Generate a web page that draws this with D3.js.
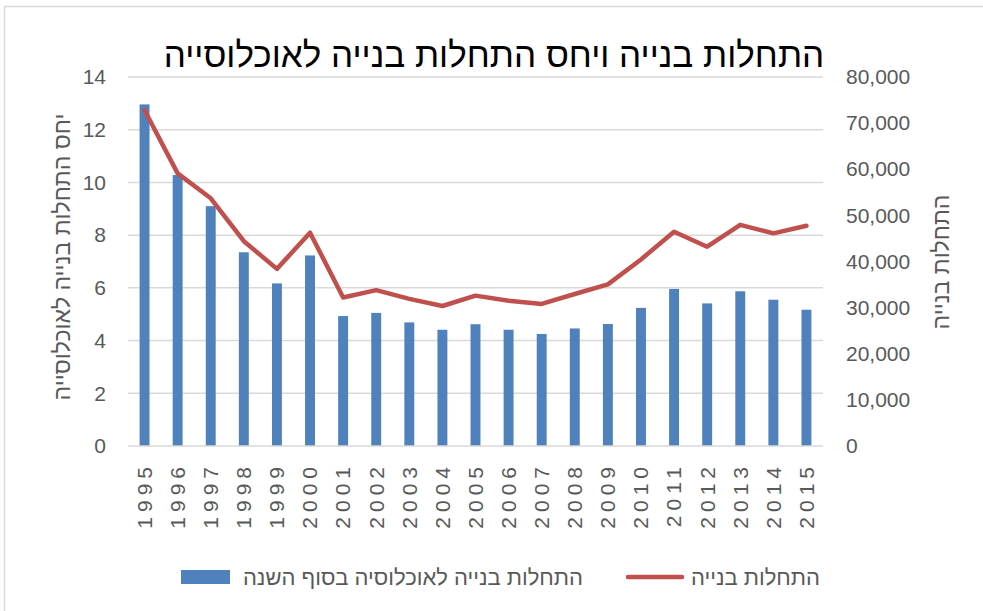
<!DOCTYPE html>
<html>
<head>
<meta charset="utf-8">
<script src="https://cdn.jsdelivr.net/npm/d3@7"></script>
<style>
  body { margin: 0; background: #fff; }
  svg { display: block; font-family: "Liberation Sans", Arial, sans-serif; }
</style>
</head>
<body>
<svg id="chart" width="983" height="611"></svg>
<script>
// data
const years = ["1995","1996","1997","1998","1999","2000","2001","2002","2003","2004","2005",
               "2006","2007","2008","2009","2010","2011","2012","2013","2014","2015"];
// starts per 1000 population (bars, left axis)
const ratioValues = [12.96, 10.28, 9.1, 7.35, 6.17, 7.23, 4.93, 5.05, 4.69, 4.41, 4.62,
                     4.41, 4.25, 4.46, 4.63, 5.24, 5.96, 5.41, 5.87, 5.55, 5.17];
// building starts (line, right axis)
const startsValues = [72800, 59100, 53700, 44400, 38400, 46250, 32200, 33800, 31900, 30350, 32600,
                      31500, 30800, 32950, 35050, 40450, 46450, 43200, 47950, 46100, 47750];
const leftTicks = [0, 2, 4, 6, 8, 10, 12, 14];
const rightTicks = [0, 10000, 20000, 30000, 40000, 50000, 60000, 70000, 80000];

const titleText = "התחלות בנייה ויחס התחלות בנייה לאוכלוסייה";
const leftTitle = "יחס התחלות בנייה לאוכלוסייה";
const rightTitle = "התחלות בנייה";
const barLegend = "התחלות בנייה לאוכלוסיה בסוף השנה";
const lineLegend = "התחלות בנייה";

const svg = d3.select("#chart");
const margin = { left: 128, right: 823, top: 77, bottom: 446 };

const x = d3.scaleBand().domain(years).range([margin.left, margin.right]).paddingInner(0.7).paddingOuter(0.35);
const yL = d3.scaleLinear().domain([0, 14]).range([margin.bottom, margin.top]);
const yR = d3.scaleLinear().domain([0, 80000]).range([margin.bottom, margin.top]);

const grid = "#d9d9d9", textCol = "#595959";

// chart border (only left/top visible in the crop)
svg.append("rect")
    .attr("x", 4.5).attr("y", 6.5)
    .attr("width", 1200).attr("height", 900)
    .attr("fill", "none").attr("stroke", grid).attr("stroke-width", 1.5);

// gridlines
svg.append("g").selectAll("line").data(leftTicks.filter(d => d > 0)).join("line")
    .attr("x1", margin.left).attr("x2", margin.right)
    .attr("y1", d => yL(d)).attr("y2", d => yL(d))
    .attr("stroke", grid).attr("stroke-width", 1.5);

// bars
svg.append("g").selectAll("rect").data(years).join("rect")
    .attr("x", d => x(d))
    .attr("width", x.bandwidth())
    .attr("y", (d, i) => yL(ratioValues[i]))
    .attr("height", (d, i) => yL(0) - yL(ratioValues[i]))
    .attr("fill", "#4f81bd");

// baseline
svg.append("line")
    .attr("x1", margin.left).attr("x2", margin.right)
    .attr("y1", yL(0)).attr("y2", yL(0))
    .attr("stroke", grid).attr("stroke-width", 1.5);

// line
const line = d3.line()
    .x((d, i) => x(years[i]) + x.bandwidth() / 2)
    .y(d => yR(d));
svg.append("path")
    .datum(startsValues)
    .attr("d", line)
    .attr("fill", "none")
    .attr("stroke", "#c0504d")
    .attr("stroke-width", 4.5)
    .attr("stroke-linejoin", "round")
    .attr("stroke-linecap", "round");

// left axis
const leftAxis = svg.append("g")
    .attr("transform", `translate(${margin.left - 22},0)`)
    .call(d3.axisLeft(yL).tickValues(leftTicks).tickSize(0).tickPadding(0));
leftAxis.select(".domain").remove();

// right axis
const rightAxis = svg.append("g")
    .attr("transform", `translate(${margin.right + 23},0)`)
    .call(d3.axisRight(yR).tickValues(rightTicks).tickSize(0).tickPadding(0).tickFormat(d3.format(",")));
rightAxis.select(".domain").remove();

// bottom axis, rotated years
const bottomAxis = svg.append("g")
    .attr("transform", `translate(0,${margin.bottom})`)
    .call(d3.axisBottom(x).tickSize(0).tickPadding(0));
bottomAxis.select(".domain").remove();
bottomAxis.selectAll("text")
    .attr("transform", "rotate(-90)")
    .attr("x", -16).attr("y", 0).attr("dy", "0.35em")
    .attr("text-anchor", "end")
    .style("letter-spacing", "5px");

svg.selectAll(".tick text")
    .attr("fill", textCol)
    .style("font-size", "21px")
    .style("font-family", "'Liberation Sans', Arial, sans-serif");

// title
svg.append("text")
    .attr("x", 494).attr("y", 67)
    .attr("text-anchor", "middle")
    .attr("fill", "#000")
    .style("font-size", "35px")
    .text(titleText);

// axis titles
svg.append("text")
    .attr("transform", `translate(70,257) rotate(-90)`)
    .attr("text-anchor", "middle")
    .attr("fill", textCol)
    .style("font-size", "23px")
    .text(leftTitle);

svg.append("text")
    .attr("transform", `translate(949,262) rotate(-90)`)
    .attr("text-anchor", "middle")
    .attr("fill", textCol)
    .style("font-size", "23px")
    .text(rightTitle);

// legend
const legend = svg.append("g");
legend.append("rect")
    .attr("x", 181).attr("y", 570).attr("width", 49).attr("height", 14)
    .attr("fill", "#4f81bd");
legend.append("text")
    .attr("x", 583).attr("y", 585)
    .attr("text-anchor", "end").attr("fill", textCol)
    .style("font-size", "22px")
    .text(barLegend);
legend.append("line")
    .attr("x1", 628).attr("x2", 682).attr("y1", 577).attr("y2", 577)
    .attr("stroke", "#c0504d").attr("stroke-width", 4.5).attr("stroke-linecap", "round");
legend.append("text")
    .attr("x", 820).attr("y", 585)
    .attr("text-anchor", "end").attr("fill", textCol)
    .style("font-size", "22px")
    .text(lineLegend);
</script>
</body>
</html>
